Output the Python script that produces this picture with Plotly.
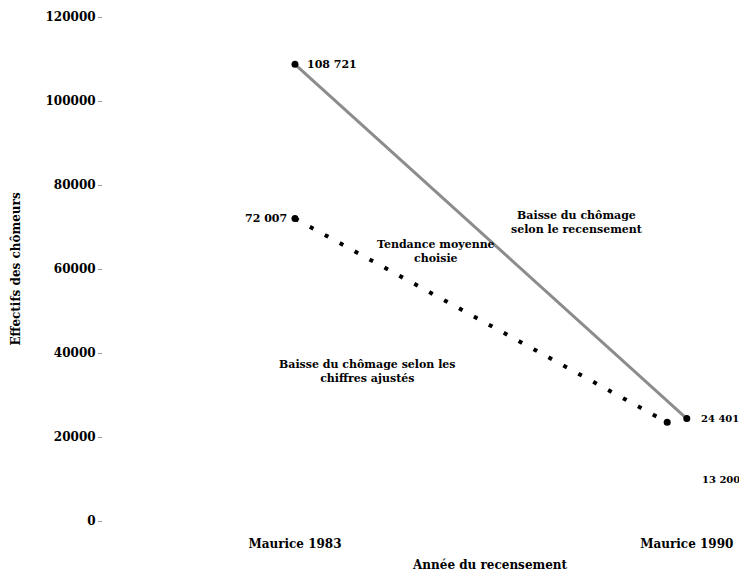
import plotly.graph_objects as go

# census years (x) and unemployed counts
annees = [1983, 1990]
annee_labels = ["Maurice 1983", "Maurice 1990"]

x_recensement = [1983, 1990]
chomeurs_recensement = [108721, 24401]

x_ajustes = [1983, 1989.65]
chomeurs_ajustes = [72007, 23500]

etiquettes_recensement = ["108 721", "24 401"]
etiquette_ajuste = "72 007"
etiquette_1990_ajuste = "13 200"
valeur_1990_ajuste = 13200

y_ticks = [0, 20000, 40000, 60000, 80000, 100000, 120000]

FONT = "DejaVu Serif"


def main():
    fig = go.Figure()

    # solid line: census figures
    fig.add_trace(go.Scatter(
        x=x_recensement, y=chomeurs_recensement,
        mode="lines+markers",
        line=dict(color="#8c8c8c", width=3),
        marker=dict(color="black", size=7),
        showlegend=False, hoverinfo="y"
    ))

    # dotted line: adjusted figures
    fig.add_trace(go.Scatter(
        x=x_ajustes, y=chomeurs_ajustes,
        mode="lines+markers",
        line=dict(color="black", width=4, dash="4px,13px"),
        marker=dict(color="black", size=7),
        showlegend=False, hoverinfo="y"
    ))

    txt = dict(family=FONT, size=12, color="black", weight="bold")
    small = dict(family=FONT, size=11, color="black", weight="bold")
    tiny = dict(family=FONT, size=10, color="black", weight="bold")

    ann = [
        dict(x=x_recensement[0], y=chomeurs_recensement[0], text=etiquettes_recensement[0],
             xanchor="left", xshift=10, showarrow=False, font=small),
        dict(x=x_recensement[1], y=chomeurs_recensement[1], text=etiquettes_recensement[1],
             xanchor="left", xshift=12, showarrow=False, font=tiny),
        dict(x=x_ajustes[0], y=chomeurs_ajustes[0], text=etiquette_ajuste,
             xanchor="right", xshift=-6, showarrow=False, font=small),
        dict(x=annees[1], y=valeur_1990_ajuste, text=etiquette_1990_ajuste,
             xanchor="left", xshift=13, yshift=-14, showarrow=False, font=tiny),
        dict(x=1988.04, y=71190, text="Baisse du chômage<br>selon le recensement",
             showarrow=False, font=small),
        dict(x=1985.52, y=64050, text="Tendance moyenne<br>choisie",
             showarrow=False, font=small),
        dict(x=1984.29, y=35480, text="Baisse du chômage selon les<br>chiffres ajustés",
             showarrow=False, font=small),
        dict(x=0.603, y=-0.105, xref="paper", yref="paper",
             text="Année du recensement", showarrow=False, font=txt),
    ]

    fig.update_layout(
        width=739, height=572,
        margin=dict(l=95, r=2, t=9, b=59),
        paper_bgcolor="white", plot_bgcolor="white",
        font=dict(family=FONT, size=12, color="black"),
        annotations=ann,
    )

    fig.update_xaxes(
        range=[1979.57, 1991.04],
        tickvals=annees, ticktext=annee_labels,
        tickfont=txt, ticks="", ticklabelstandoff=14,
        showgrid=False, zeroline=False, showline=False,
    )
    fig.update_yaxes(
        range=[0, 120000],
        tickvals=y_ticks, tickformat="d",
        tickfont=dict(family=FONT, size=12, color="black", weight="bold"),
        ticks="outside", ticklen=4, tickcolor="#999999",
        showgrid=False, zeroline=False, showline=False,
        title=dict(text="Effectifs des chômeurs", font=txt, standoff=22),
    )

    fig.write_html("out.html")


if __name__ == "__main__":
    main()
